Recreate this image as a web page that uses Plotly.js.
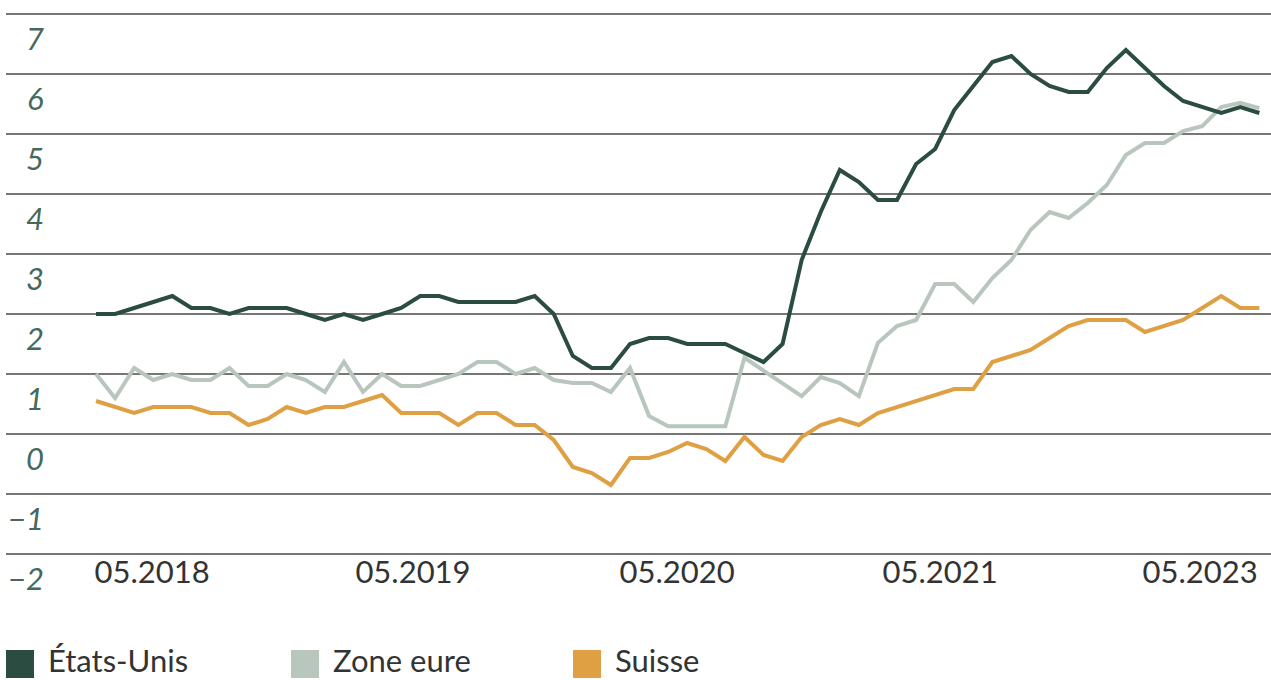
<!DOCTYPE html>
<html>
<head>
<meta charset="utf-8">
<script src="https://cdn.plot.ly/plotly-3.0.1.min.js"></script>
<style>
  html, body { margin: 0; padding: 0; background: #ffffff; }
  #chart { width: 1271px; height: 680px; }
</style>
</head>
<body>
<div id="chart"></div>
<script>
const seriesNames = ["États-Unis", "Zone eure", "Suisse"];

const etatsUnis = [
  2.0, 2.0, 2.1, 2.2, 2.3, 2.1, 2.1, 2.0, 2.1, 2.1, 2.1, 2.0,
  1.9, 2.0, 1.9, 2.0, 2.1, 2.3, 2.3, 2.2, 2.2, 2.2, 2.2, 2.3,
  2.0, 1.3, 1.1, 1.1, 1.5, 1.6, 1.6, 1.5, 1.5, 1.5, 1.35, 1.2,
  1.5, 2.9, 3.7, 4.4, 4.2, 3.9, 3.9, 4.5, 4.75, 5.4, 5.8, 6.2,
  6.3, 6.0, 5.8, 5.7, 5.7, 6.1, 6.4, 6.1, 5.8, 5.55, 5.45, 5.35,
  5.45, 5.35
];

const zoneEuro = [
  1.0, 0.6, 1.1, 0.9, 1.0, 0.9, 0.9, 1.1, 0.8, 0.8, 1.0, 0.9,
  0.7, 1.2, 0.7, 1.0, 0.8, 0.8, 0.9, 1.0, 1.2, 1.2, 1.0, 1.1,
  0.9, 0.85, 0.85, 0.7, 1.1, 0.3, 0.13, 0.13, 0.13, 0.13, 1.27, 1.05,
  0.85, 0.63, 0.95, 0.85, 0.63, 1.52, 1.8, 1.9, 2.5, 2.5, 2.2, 2.6,
  2.9, 3.4, 3.7, 3.6, 3.85, 4.15, 4.65, 4.85, 4.85, 5.05, 5.13, 5.45,
  5.52, 5.43
];

const suisse = [
  0.55, 0.45, 0.35, 0.45, 0.45, 0.45, 0.35, 0.35, 0.15, 0.25, 0.45, 0.35,
  0.45, 0.45, 0.55, 0.65, 0.35, 0.35, 0.35, 0.15, 0.35, 0.35, 0.15, 0.15,
  -0.1, -0.55, -0.65, -0.85, -0.4, -0.4, -0.3, -0.15, -0.25, -0.45, -0.05, -0.35,
  -0.45, -0.05, 0.15, 0.25, 0.15, 0.35, 0.45, 0.55, 0.65, 0.75, 0.75, 1.2,
  1.3, 1.4, 1.6, 1.8, 1.9, 1.9, 1.9, 1.7, 1.8, 1.9, 2.1, 2.3,
  2.1, 2.1
];

const xTickLabels = ["05.2018", "05.2019", "05.2020", "05.2021", "05.2023"];
const xTickPositions = [2.94, 16.62, 30.47, 44.26, 57.89];
const yTickValues = [-2, -1, 0, 1, 2, 3, 4, 5, 6, 7];
const yTickLabels = ["\u22122", "\u22121", "0", "1", "2", "3", "4", "5", "6", "7"];

// ---- Styling ----
const colors = ["#2b4c41", "#b9c6bd", "#df9f43"];
const W = 1271, H = 680;
const M = { l: 6, r: 0, t: 11, b: 123 };
const plotW = W - M.l - M.r, plotH = H - M.t - M.b;
const px2x = px => (px - M.l) / plotW;
const px2y = py => (H - M.b - py) / plotH;

const monthIndex = etatsUnis.map((_, i) => i);
const allSeries = [etatsUnis, zoneEuro, suisse];

const traces = allSeries.map((vals, k) => ({
  type: "scatter",
  mode: "lines",
  x: monthIndex,
  y: vals,
  name: seriesNames[k],
  line: { color: colors[k], width: 4, shape: "linear" },
  hoverinfo: "skip",
  showlegend: false
}));
// draw order: euro first (underneath), then Swiss, then US on top
const ordered = [traces[1], traces[2], traces[0]];

const fontFamily = "Lato, 'Open Sans', sans-serif";

const annotations = [];
yTickValues.forEach((v, i) => {
  annotations.push({
    xref: "paper", yref: "y",
    x: px2x(46), y: v,
    xanchor: "right", yanchor: "middle",
    yshift: -24,
    text: yTickLabels[i],
    showarrow: false,
    font: { family: fontFamily, size: 31, color: "#46695c", style: "italic" }
  });
});

const shapes = [];
const legendStarts = [6, 291, 573];
seriesNames.forEach((name, k) => {
  const x0 = legendStarts[k];
  shapes.push({
    type: "rect", xref: "paper", yref: "paper",
    x0: px2x(x0), x1: px2x(x0 + 28),
    y0: px2y(678), y1: px2y(650),
    fillcolor: colors[k], line: { width: 0 }
  });
  annotations.push({
    xref: "paper", yref: "paper",
    x: px2x(x0 + 41), y: px2y(680),
    xanchor: "left", yanchor: "bottom",
    borderpad: 0,
    text: name, showarrow: false,
    font: { family: fontFamily, size: 31, color: "#333333" }
  });
});

const layout = {
  width: W, height: H,
  margin: M,
  paper_bgcolor: "#ffffff",
  plot_bgcolor: "#ffffff",
  showlegend: false,
  xaxis: {
    range: [-4.72, 61.61],
    showgrid: false, zeroline: false, showline: false,
    tickmode: "array",
    tickvals: xTickPositions,
    ticktext: xTickLabels,
    ticks: "",
    ticklabelstandoff: -6,
    tickfont: { family: fontFamily, size: 31, color: "#333333" },
    fixedrange: true
  },
  yaxis: {
    range: [-2.05, 7.05],
    tickmode: "array",
    tickvals: yTickValues,
    showticklabels: false,
    showgrid: true,
    gridcolor: "#767676",
    gridwidth: 2,
    zeroline: false, showline: false,
    ticks: "",
    fixedrange: true
  },
  annotations: annotations,
  shapes: shapes
};

Plotly.newPlot("chart", ordered, layout, { displayModeBar: false, staticPlot: true });
</script>
</body>
</html>
